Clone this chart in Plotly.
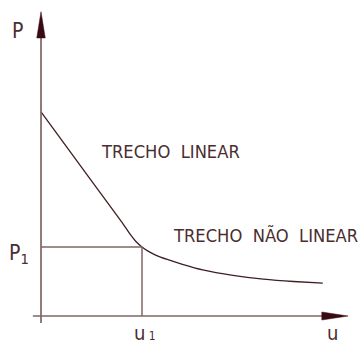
import plotly.graph_objects as go

# ---- data ----
u_curve = [0.0, 0.50, 0.80, 0.88, 0.94, 1.00, 1.06, 1.14, 1.25, 1.40, 1.60, 1.90, 2.20, 2.50, 2.79]
P_curve = [2.96, 1.96, 1.36, 1.19, 1.08, 1.00, 0.94, 0.88, 0.82, 0.75, 0.67, 0.59, 0.535, 0.50, 0.478]
u1_value = [1.0]
P1_value = [1.0]
label_text = ["P", "P<sub>1</sub>", "u<span style='font-size:12px'> 1</span>", "u",
              "TRECHO  LINEAR", "TRECHO  NÃO  LINEAR"]
label_u = [-0.228, -0.215, 1.03, 2.886, 0.584, 3.145]
label_P = [4.13, 0.90, -0.44, -0.44, 2.39, 1.165]

# ---- axis geometry ----
u_axis = [-0.08, 3.04]
P_axis = [-0.10, 4.41]
u_range = [-0.406, 3.178]
P_range = [-0.449, 4.580]

AXIS_C = "#806464"
LINE_C = "#3f1f22"
TEXT_C = "#4a2e30"
ARROW_C = "#3a0a12"
FONT = "Liberation Sans Narrow, DejaVu Sans Condensed, sans-serif"

fig = go.Figure()

# main curve
fig.add_trace(go.Scatter(x=u_curve, y=P_curve, mode="lines",
                         line=dict(color=LINE_C, width=1.3, shape="spline", smoothing=0.5),
                         hoverinfo="skip", showlegend=False))

shapes = []
# axes
shapes.append(dict(type="line", xref="x", yref="y", x0=0, x1=0, y0=P_axis[0], y1=P_axis[1] - 0.3,
                   line=dict(color=AXIS_C, width=1.7)))
shapes.append(dict(type="line", xref="x", yref="y", x0=u_axis[0], x1=u_axis[1] - 0.2, y0=0, y1=0,
                   line=dict(color=AXIS_C, width=1.7)))
# P1 / u1 guide lines
shapes.append(dict(type="line", xref="x", yref="y", x0=0, x1=u1_value[0], y0=P1_value[0], y1=P1_value[0],
                   line=dict(color=AXIS_C, width=1.5)))
shapes.append(dict(type="line", xref="x", yref="y", x0=u1_value[0], x1=u1_value[0], y0=0, y1=P1_value[0],
                   line=dict(color=AXIS_C, width=1.5)))

# arrowheads (long narrow triangles at axis ends)
tipP = P_axis[1]
baseP = tipP - 0.38
hw_u = 0.042
shapes.append(dict(type="path", xref="x", yref="y",
                   path=f"M {-hw_u},{baseP} L 0,{tipP} L {hw_u},{baseP} Z",
                   fillcolor=ARROW_C, line=dict(color=ARROW_C, width=0.5)))
tipU = u_axis[1]
baseU = tipU - 0.26
hw_P = 0.058
shapes.append(dict(type="path", xref="x", yref="y",
                   path=f"M {baseU},{-hw_P} L {tipU},0 L {baseU},{hw_P} Z",
                   fillcolor=ARROW_C, line=dict(color=ARROW_C, width=0.5)))

annotations = []
sizes = [21, 21, 20, 20, 18.2, 18.2]
xanchors = ["center", "center", "center", "center", "left", "right"]
yanchors = ["middle", "middle", "bottom", "bottom", "middle", "middle"]
for t, x, y, s, xa, ya in zip(label_text, label_u, label_P, sizes, xanchors, yanchors):
    annotations.append(dict(text=t, x=x, y=y, xref="x", yref="y", showarrow=False,
                            xanchor=xa, yanchor=ya, borderpad=0,
                            font=dict(family=FONT, size=s, color=TEXT_C)))

fig.update_layout(
    width=362, height=347,
    margin=dict(l=0, r=0, t=0, b=0),
    paper_bgcolor="white", plot_bgcolor="white",
    xaxis=dict(range=u_range, visible=False, fixedrange=True),
    yaxis=dict(range=P_range, visible=False, fixedrange=True),
    shapes=shapes, annotations=annotations,
    showlegend=False,
)

fig.write_html("out.html", config={"displayModeBar": False},
               post_script="document.body.style.margin='0';document.body.style.overflow='hidden';")
